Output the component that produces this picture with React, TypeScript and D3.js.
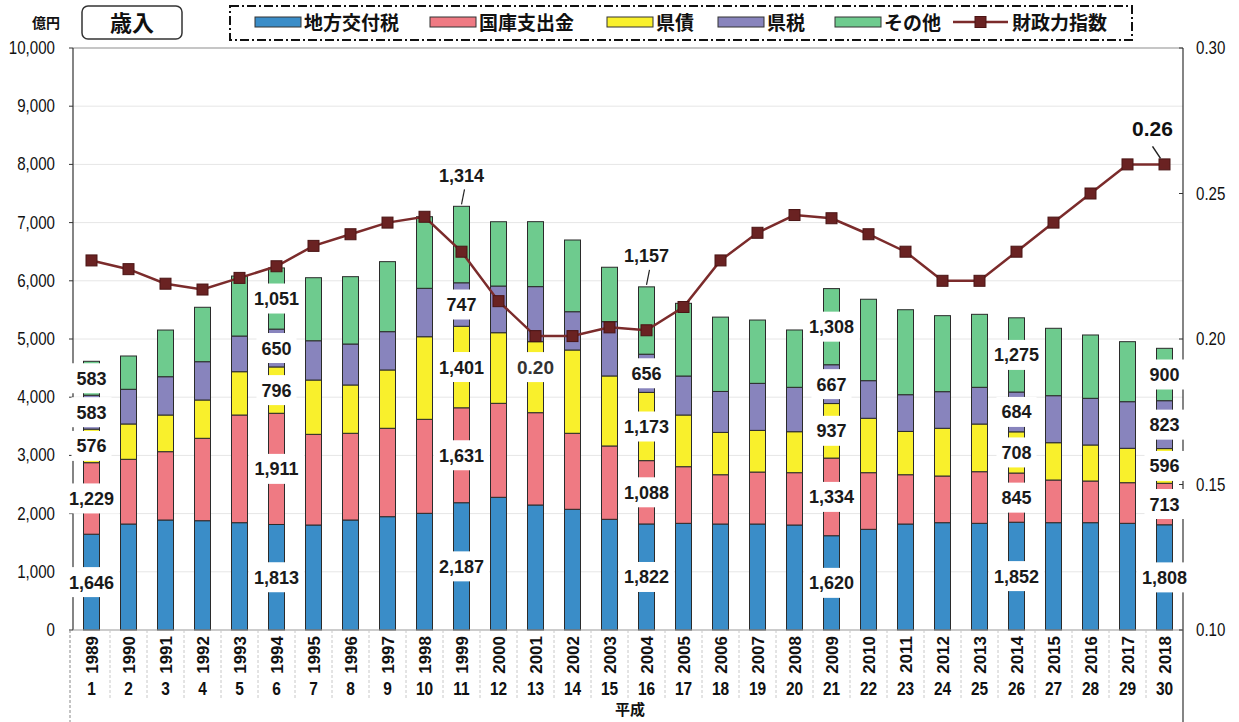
import React from 'react';
import * as d3 from 'd3';

// 歳入 (億円) by source, 1989-2018, plus 財政力指数
const years = ['1989', '1990', '1991', '1992', '1993', '1994', '1995', '1996', '1997', '1998',
  '1999', '2000', '2001', '2002', '2003', '2004', '2005', '2006', '2007', '2008',
  '2009', '2010', '2011', '2012', '2013', '2014', '2015', '2016', '2017', '2018'];
const heisei = ['1', '2', '3', '4', '5', '6', '7', '8', '9', '10', '11', '12', '13', '14', '15',
  '16', '17', '18', '19', '20', '21', '22', '23', '24', '25', '26', '27', '28', '29', '30'];

const chihoKofuzei = [1646, 1821, 1890, 1878, 1844, 1813, 1804, 1890, 1947, 2005,
  2187, 2280, 2148, 2074, 1902, 1822, 1833, 1821, 1821, 1804,
  1620, 1730, 1821, 1844, 1833, 1852, 1844, 1844, 1833, 1808];
const kokkoShishutsu = [1229, 1112, 1174, 1416, 1850, 1911, 1558, 1490, 1519, 1615,
  1631, 1615, 1586, 1306, 1260, 1088, 973, 847, 893, 899,
  1334, 973, 847, 802, 887, 845, 733, 716, 698, 713];
const kensai = [576, 607, 630, 658, 744, 796, 933, 830, 1002, 1419,
  1401, 1213, 1220, 1431, 1203, 1173, 888, 727, 716, 704,
  937, 935, 744, 820, 819, 708, 641, 619, 591, 596];
const kenzei = [583, 596, 658, 658, 613, 650, 675, 704, 658, 832,
  747, 802, 946, 658, 933, 656, 670, 704, 808, 763,
  667, 646, 631, 629, 631, 684, 808, 802, 801, 823];
const sonota = [583, 572, 802, 935, 1031, 1051, 1083, 1157, 1203, 1230,
  1314, 1105, 1116, 1232, 935, 1157, 1249, 1277, 1088, 985,
  1308, 1399, 1460, 1306, 1254, 1275, 1158, 1088, 1031, 900];
const zaiseiIndex = [0.227, 0.224, 0.219, 0.217, 0.221, 0.225, 0.232, 0.236, 0.240, 0.242,
  0.230, 0.213, 0.201, 0.201, 0.204, 0.203, 0.211, 0.227, 0.2365, 0.2426,
  0.2415, 0.236, 0.230, 0.220, 0.220, 0.230, 0.240, 0.250, 0.260, 0.260];

const labeledYears = ['1989', '1994', '1999', '2004', '2009', '2014', '2018'];
const indexLabelYears = ['2001', '2018'];

const seriesNames = ['地方交付税', '国庫支出金', '県債', '県税', 'その他'];
const seriesColors = ['#3a8dc8', '#ef7a83', '#f9f02c', '#8884bd', '#6ecb8e'];
const lineName = '財政力指数';

const leftTicks = [0, 1000, 2000, 3000, 4000, 5000, 6000, 7000, 8000, 9000, 10000];
const rightTicks = [0.1, 0.15, 0.2, 0.25, 0.3];

const W = 1239;
const H = 722;
const plot = { left: 73, right: 1183, top: 48, bottom: 630 };
const legendX = [255, 430, 607, 718, 835];
const NUM = "'Liberation Sans', Arial, sans-serif";
const JP = "'Noto Sans CJK JP', 'Noto Sans', sans-serif";

const fmt = d3.format(',');
const textW = (s: string) => s.split('').reduce((a, c) => a + (c === ',' || c === '.' ? 5 : 10), 0);

export default function App() {
  const x = d3.scaleBand<string>().domain(years).range([plot.left, plot.right]).padding(0);
  const y = d3.scaleLinear().domain([0, 10000]).range([plot.bottom, plot.top]);
  const yR = d3.scaleLinear().domain([0.1, 0.3]).range([plot.bottom, plot.top]);
  const barW = 16;
  const cx = (yr: string) => (x(yr) as number) + x.bandwidth() / 2;

  const keys = ['s0', 's1', 's2', 's3', 's4'];
  const table = years.map((yr, i) => ({
    year: yr,
    s0: chihoKofuzei[i],
    s1: kokkoShishutsu[i],
    s2: kensai[i],
    s3: kenzei[i],
    s4: sonota[i],
  }));
  const stacked = d3.stack<any>().keys(keys)(table);

  const line = d3.line<number>()
    .x((_, i) => cx(years[i]))
    .y(d => yR(d));

  // data labels
  const labels: { x: number; y: number; text: string; leader?: [number, number, number, number] }[] = [];
  labeledYears.forEach(yr => {
    const i = years.indexOf(yr);
    const markerY = yR(zaiseiIndex[i]);
    const top = y(stacked[stacked.length - 1][i][1]);
    stacked.forEach(s => {
      const d = s[i];
      const mid = (y(d[0]) + y(d[1])) / 2;
      const text = fmt(d[1] - d[0]);
      if (Math.abs(mid - markerY) < 25) {
        labels.push({ x: cx(yr), y: top - 31, text, leader: [cx(yr) + 3, top - 17, cx(yr), top - 2] });
      } else {
        labels.push({ x: cx(yr), y: mid, text });
      }
    });
  });

  return (
    <div style={{ position: 'absolute', left: 0, top: 0, background: '#fff' }}>
      <svg width={W} height={H} style={{ display: 'block' }}>
        <rect width={W} height={H} fill="#fff" />

        {/* gridlines */}
        {leftTicks.slice(1).map(t => (
          <line key={t} x1={plot.left} x2={plot.right} y1={y(t)} y2={y(t)} stroke="#e6e6e6" strokeWidth={1} />
        ))}

        {/* bars */}
        {stacked.map((s, k) => (
          <g key={k}>
            {s.map((d, i) => (
              <rect key={i}
                x={cx(years[i]) - barW / 2}
                y={y(d[1])}
                width={barW}
                height={y(d[0]) - y(d[1])}
                fill={seriesColors[k]}
                stroke="#2b2b2b"
                strokeWidth={1} />
            ))}
          </g>
        ))}

        {/* axes frame */}
        <line x1={plot.left} x2={plot.right} y1={plot.top} y2={plot.top} stroke="#999" strokeWidth={1} />
        <line x1={plot.left} x2={plot.left} y1={plot.top} y2={plot.bottom} stroke="#333" strokeWidth={1.2} />
        <line x1={plot.right} x2={plot.right} y1={plot.top} y2={H} stroke="#333" strokeWidth={1.2} />
        <line x1={plot.left} x2={plot.right} y1={plot.bottom} y2={plot.bottom} stroke="#999" strokeWidth={1} />
        {leftTicks.map(t => (
          <line key={t} x1={plot.left - 4} x2={plot.left} y1={y(t)} y2={y(t)} stroke="#333" />
        ))}
        {rightTicks.map(t => (
          <line key={t} x1={plot.right - 4} x2={plot.right} y1={yR(t)} y2={yR(t)} stroke="#333" />
        ))}

        {/* left tick labels */}
        {leftTicks.map(t => (
          <text key={t} transform={`translate(55,${y(t) + 6}) scale(0.84,1)`} textAnchor="end"
            fontFamily={NUM} fontSize={18} fill="#111">{fmt(t)}</text>
        ))}
        {/* right tick labels */}
        {rightTicks.map(t => (
          <text key={t} transform={`translate(1196,${yR(t) + 6}) scale(0.84,1)`}
            fontFamily={NUM} fontSize={18} fill="#111">{t.toFixed(2)}</text>
        ))}

        {/* x axis category area */}
        <line x1={70} x2={70} y1={plot.bottom} y2={H} stroke="#888" strokeDasharray="3 2" />
        {years.slice(1).map(yr => (
          <line key={yr} x1={x(yr)} x2={x(yr)} y1={plot.bottom} y2={700} stroke="#c8c8c8" strokeDasharray="3 2" />
        ))}
        {years.map((yr, i) => (
          <g key={yr}>
            <text transform={`translate(${cx(yr) + 6},636) rotate(-90)`} textAnchor="end"
              fontFamily={NUM} fontSize={17} fontWeight="bold" fill="#111">{yr}</text>
            <text transform={`translate(${cx(yr)},695) scale(0.86,1)`} textAnchor="middle"
              fontFamily={NUM} fontSize={18} fontWeight="bold" fill="#111">{heisei[i]}</text>
          </g>
        ))}
        <text x={630} y={715} textAnchor="middle" fontFamily={JP} fontSize={15} fontWeight="bold" fill="#111">平成</text>

        {/* 財政力指数 line */}
        <path d={line(zaiseiIndex) || ''} fill="none" stroke="#7b2b2b" strokeWidth={2.5} />
        {zaiseiIndex.map((v, i) => (
          <rect key={i} x={cx(years[i]) - 5.5} y={yR(v) - 5.5} width={11} height={11}
            fill="#6a2222" stroke="#4a1414" strokeWidth={1} />
        ))}

        {/* value labels */}
        {labels.map((l, i) => {
          const w = textW(l.text) + 10;
          return (
            <g key={i}>
              {l.leader ? (
                <line x1={l.leader[0]} y1={l.leader[1]} x2={l.leader[2]} y2={l.leader[3]} stroke="#222" strokeWidth={1.2} />
              ) : (
                <rect x={l.x - w / 2} y={l.y - 15} width={w} height={30} fill="#fff" />
              )}
              <text x={l.x} y={l.y + 6.5} textAnchor="middle" fontFamily={NUM} fontSize={18}
                fontWeight="bold" fill="#1a1a1a">{l.text}</text>
            </g>
          );
        })}

        {/* index labels */}
        {indexLabelYears.map((yr, k) => {
          const i = years.indexOf(yr);
          const text = zaiseiIndex[i].toFixed(2);
          const mx = cx(yr);
          const my = yR(zaiseiIndex[i]);
          if (k === 0) {
            const w = textW(text) + 14;
            return (
              <g key={yr}>
                <rect x={mx - w / 2} y={my + 16} width={w} height={30} fill="#fff" />
                <text x={mx} y={my + 38} textAnchor="middle" fontFamily={NUM} fontSize={19}
                  fontWeight="bold" fill="#333">{text}</text>
              </g>
            );
          }
          return (
            <g key={yr}>
              <line x1={mx - 12} y1={my - 18} x2={mx - 4} y2={my - 6} stroke="#222" strokeWidth={1.5} />
              <text x={mx - 12} y={my - 28} textAnchor="middle" fontFamily={NUM} fontSize={21}
                fontWeight="bold" fill="#111">{text}</text>
            </g>
          );
        })}

        {/* header */}
        <text x={46} y={28} textAnchor="middle" fontFamily={JP} fontSize={14} fontWeight="bold" fill="#111">億円</text>
        <rect x={82} y={6} width={100} height={33} rx={6} fill="#fff" stroke="#333" strokeWidth={1.5} />
        <text x={132} y={31} textAnchor="middle" fontFamily={JP} fontSize={22} fontWeight="bold" fill="#111">歳入</text>

        {/* legend */}
        <rect x={230} y={6} width={902} height={34} fill="#fff" stroke="#111" strokeWidth={2} strokeDasharray="9 3 2 3" />
        {seriesNames.map((n, k) => (
          <g key={n}>
            <rect x={legendX[k]} y={17} width={46} height={10} fill={seriesColors[k]} stroke="#333" strokeWidth={1} />
            <text x={legendX[k] + 49} y={30} fontFamily={JP} fontSize={19} fontWeight="bold" fill="#111">{n}</text>
          </g>
        ))}
        <line x1={953} x2={1008} y1={22} y2={22} stroke="#7b2b2b" strokeWidth={2.5} />
        <rect x={975} y={16.5} width={11} height={11} fill="#6a2222" stroke="#4a1414" />
        <text x={1012} y={30} fontFamily={JP} fontSize={19} fontWeight="bold" fill="#111">{lineName}</text>
      </svg>
    </div>
  );
}
